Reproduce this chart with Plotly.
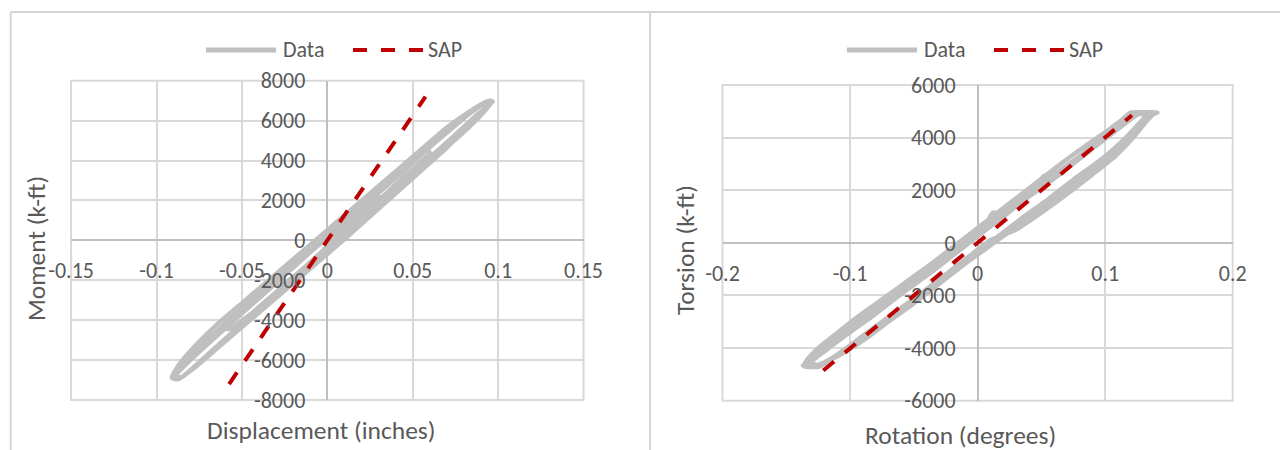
import plotly.graph_objects as go

# ---------------- data ----------------
# Left panel: moment vs. displacement (cyclic test record)
disp = [
    0.000, 0.015, 0.030, 0.028, 0.015, 0.000, -0.015, -0.030, -0.028, -0.015, 0.000,
    0.015, 0.030, 0.045, 0.060, 0.058, 0.045, 0.030, 0.015, 0.000, -0.015, -0.030,
    -0.045, -0.060, -0.058, -0.045, -0.030, -0.015, 0.000,
    0.015, 0.030, 0.045, 0.060, 0.075, 0.088, 0.096, 0.093, 0.085, 0.070, 0.055,
    0.040, 0.025, 0.010, -0.005, -0.020, -0.035, -0.050, -0.065, -0.078, -0.087,
    -0.091, -0.087, -0.078, -0.065, -0.050, -0.035, -0.020, -0.005, 0.010,
    0.025, 0.040, 0.055, 0.070, 0.083, 0.094, 0.091, 0.080, 0.065, 0.050, 0.035,
    0.020, 0.005, -0.010, -0.025, -0.040, -0.055, -0.070, -0.082, -0.089, -0.085,
    -0.075, -0.060, -0.045, -0.030, -0.015, 0.000, 0.015,
    0.030, 0.045, 0.060, 0.075, 0.087, 0.097, 0.095, 0.084, 0.068, 0.052, 0.036,
    0.020, 0.005, -0.010, -0.025, -0.040, -0.055, -0.070, -0.082, -0.090, -0.086,
    -0.076, -0.062, -0.048, -0.034, -0.020, -0.006, 0.000,
]
moment = [
    0, 1000, 2200, 2300, 1500, 300, -900, -2200, -2300, -1500, -300,
    900, 2000, 3200, 4400, 4500, 3700, 2600, 1500, 400, -800, -1900,
    -3100, -4300, -4450, -3700, -2600, -1500, -400,
    650, 1750, 2850, 3950, 5050, 6100, 6900, 6950, 6550, 5650, 4550,
    3450, 2350, 1250, 150, -950, -2050, -3150, -4250, -5350, -6250,
    -6900, -6950, -6400, -5450, -4350, -3250, -2150, -1050, 50,
    1200, 2350, 3500, 4650, 5800, 6800, 6850, 6200, 5050, 3900, 2750,
    1650, 500, -600, -1750, -2900, -4050, -5200, -6150, -6800, -6850,
    -6100, -4950, -3800, -2650, -1500, -350, 800,
    1900, 3000, 4150, 5300, 6250, 6950, 7000, 6400, 5250, 4100, 2950,
    1800, 700, -400, -1500, -2650, -3800, -4950, -5900, -6850, -6900,
    -6200, -5150, -4050, -2950, -1850, -800, -350,
]
sap_disp = [-0.0575, 0.0575]
sap_moment = [-7200, 7200]

# Right panel: torsion vs. rotation
rotation = [
    0.000, 0.020, 0.040, 0.060, 0.080, 0.100, 0.115, 0.128, 0.136, 0.141, 0.130,
    0.120, 0.108, 0.095, 0.080, 0.060, 0.040, 0.020, 0.000, -0.020, -0.040,
    -0.060, -0.080, -0.100, -0.115, -0.128, -0.137, -0.134, -0.124, -0.110,
    -0.095, -0.080, -0.060, -0.040, -0.020, 0.000,
    0.015, 0.035, 0.055, 0.075, 0.095, 0.112, 0.125, 0.132, 0.124, 0.112, 0.098,
    0.080, 0.060, 0.052, 0.048, 0.040, 0.020, 0.012, 0.008, 0.000, -0.020,
    -0.040, -0.060, -0.080, -0.100, -0.117, -0.130, -0.126, -0.115, -0.100,
    -0.085, -0.065, -0.045, -0.025, -0.005, 0.010,
    0.030, 0.050, 0.070, 0.090, 0.108, 0.122, 0.132, 0.138, 0.126, 0.114, 0.100,
    0.085, 0.065, 0.045, 0.025, 0.005, -0.015, -0.035, -0.055, -0.075, -0.095,
    -0.112, -0.126, -0.135, -0.130, -0.118, -0.104, -0.088, -0.070, -0.050,
    -0.030, -0.010, 0.010,
    0.030, 0.050, 0.070, 0.090, 0.108, 0.122, 0.133, 0.139, 0.128, 0.116, 0.100,
    0.080, 0.060, 0.040, 0.020, 0.000, -0.020, -0.040, -0.060, -0.080, -0.100,
    -0.118, -0.132, -0.128, -0.116, -0.100, -0.082, -0.062, -0.042, -0.022,
    -0.002, 0.010,
]
torsion = [
    -300, 350, 1050, 1750, 2450, 3200, 3850, 4500, 4850, 4950, 4960,
    4950, 4450, 3900, 3300, 2600, 1900, 1150, 450, -250, -950,
    -1700, -2400, -3150, -3750, -4300, -4650, -4710, -4700, -4250,
    -3750, -3200, -2500, -1800, -1050, -350,
    200, 950, 1650, 2400, 3100, 3800, 4450, 4850, 4900, 4500, 3950,
    3250, 2500, 2550, 2250, 1800, 1100, 1150, 850, 350, -400,
    -1100, -1850, -2550, -3300, -3950, -4550, -4650, -4400, -3900,
    -3350, -2650, -1950, -1200, -450, 100,
    500, 1150, 1850, 2600, 3300, 4000, 4600, 4920, 4960, 4700, 4200,
    3700, 3000, 2250, 1500, 750, 0, -750, -1450, -2150, -2850,
    -3500, -4050, -4550, -4700, -4500, -4150, -3650, -3000, -2300,
    -1550, -800, -100,
    600, 1300, 2050, 2750, 3450, 4150, 4750, 4940, 4950, 4550, 3950,
    3200, 2450, 1750, 1000, 250, -500, -1250, -1950, -2700, -3400,
    -4050, -4600, -4700, -4450, -3950, -3350, -2650, -1900, -1200,
    -450, 0,
]
sap_rotation = [-0.121, 0.121]
sap_torsion = [-4850, 4850]

# tick values and labels
disp_ticks = [-0.15, -0.1, -0.05, 0, 0.05, 0.1, 0.15]
disp_tick_text = ["-0.15", "-0.1", "-0.05", "0", "0.05", "0.1", "0.15"]
moment_ticks = [-8000, -6000, -4000, -2000, 0, 2000, 4000, 6000, 8000]
moment_tick_text = ["-8000", "-6000", "-4000", "-2000", "0", "2000", "4000", "6000", "8000"]
rot_ticks = [-0.2, -0.1, 0, 0.1, 0.2]
rot_tick_text = ["-0.2", "-0.1", "0", "0.1", "0.2"]
torsion_ticks = [-6000, -4000, -2000, 0, 2000, 4000, 6000]
torsion_tick_text = ["-6000", "-4000", "-2000", "0", "2000", "4000", "6000"]

series_names = ["Data", "SAP"]
axis_titles = {
    "left_x": "Displacement (inches)",
    "left_y": "Moment (k-ft)",
    "right_x": "Rotation (degrees)",
    "right_y": "Torsion (k-ft)",
}

# ---------------- styling ----------------
W, H = 1280, 450
GREY = "#BFBFBF"
RED = "#C00000"
GRID = "#D9D9D9"
AXIS = "#BFBFBF"
TEXT = "#595959"
FONT = "Calibri, Carlito, 'Open Sans', sans-serif"
TICK_SIZE = 22
TITLE_SIZE = 25.5


def fx(p):
    return p / W


def fy(p):
    return 1 - p / H


left_xdom = [fx(71.1), fx(583.5)]
left_ydom = [fy(400.0), fy(80.7)]
right_xdom = [fx(722.5), fx(1232.7)]
right_ydom = [fy(400.7), fy(85.0)]

fig = go.Figure()

data_line = dict(color=GREY, width=4.5, shape="spline", smoothing=0.5)
sap_line = dict(color=RED, width=4, dash="14px,14px")

fig.add_trace(go.Scatter(x=disp, y=moment, mode="lines", line=data_line,
                         name=series_names[0], xaxis="x", yaxis="y", showlegend=False))
fig.add_trace(go.Scatter(x=sap_disp, y=sap_moment, mode="lines", line=sap_line,
                         name=series_names[1], xaxis="x", yaxis="y", showlegend=False))
fig.add_trace(go.Scatter(x=rotation, y=torsion, mode="lines", line=data_line,
                         name=series_names[0], xaxis="x2", yaxis="y2", showlegend=False))
fig.add_trace(go.Scatter(x=sap_rotation, y=sap_torsion, mode="lines", line=sap_line,
                         name=series_names[1], xaxis="x2", yaxis="y2", showlegend=False))

tickfont = dict(family=FONT, size=TICK_SIZE, color=TEXT)


def xaxis_cfg(dom, ydom, rng, vals, text):
    return dict(domain=dom, range=rng, tickvals=vals, ticktext=text,
                showgrid=True, gridcolor=GRID, gridwidth=2,
                zeroline=True, zerolinecolor=AXIS, zerolinewidth=2,
                showline=False, ticks="", anchor="free",
                position=(ydom[0] + ydom[1]) / 2, side="bottom",
                tickfont=tickfont, ticklabelstandoff=15, automargin=False,
                fixedrange=True)


def yaxis_cfg(dom, xdom, rng, vals, text):
    return dict(domain=dom, range=rng, tickvals=vals, ticktext=text,
                showgrid=True, gridcolor=GRID, gridwidth=2,
                zeroline=True, zerolinecolor=AXIS, zerolinewidth=2,
                showline=False, ticks="", anchor="free",
                position=(xdom[0] + xdom[1]) / 2, side="left",
                tickfont=tickfont, ticklabelstandoff=22, automargin=False,
                fixedrange=True)


fig.update_layout(
    width=W, height=H,
    margin=dict(l=0, r=0, t=0, b=0),
    paper_bgcolor="white", plot_bgcolor="white",
    font=dict(family=FONT, color=TEXT),
    xaxis=xaxis_cfg(left_xdom, left_ydom, [-0.15, 0.15], disp_ticks, disp_tick_text),
    yaxis=yaxis_cfg(left_ydom, left_xdom, [-8000, 8000], moment_ticks, moment_tick_text),
    xaxis2=xaxis_cfg(right_xdom, right_ydom, [-0.2, 0.2], rot_ticks, rot_tick_text),
    yaxis2=yaxis_cfg(right_ydom, right_xdom, [-6000, 6000], torsion_ticks, torsion_tick_text),
)

shapes = []
# plot-area borders
for xr, yr in (("x", "y"), ("x2", "y2")):
    shapes.append(dict(type="rect", xref=f"{xr} domain", yref=f"{yr} domain",
                       x0=0, x1=1, y0=0, y1=1, line=dict(color=GRID, width=2),
                       layer="below"))
# chart frames
frame = dict(color="#D4D4D4", width=2)
shapes.append(dict(type="line", xref="paper", yref="paper",
                   x0=fx(10.7), x1=1, y0=fy(12), y1=fy(12), line=frame))
shapes.append(dict(type="line", xref="paper", yref="paper",
                   x0=fx(10.7), x1=fx(10.7), y0=fy(12), y1=0, line=frame))
shapes.append(dict(type="line", xref="paper", yref="paper",
                   x0=fx(650), x1=fx(650), y0=fy(12), y1=0, line=frame))

annotations = []
# legends drawn across the top of each chart
for off in (0, 641):
    shapes.append(dict(type="line", xref="paper", yref="paper",
                       x0=fx(206 + off), x1=fx(276 + off), y0=fy(50), y1=fy(50),
                       line=dict(color=GREY, width=5)))
    shapes.append(dict(type="line", xref="paper", yref="paper",
                       x0=fx(353 + off), x1=fx(423 + off), y0=fy(50), y1=fy(50),
                       line=dict(color=RED, width=4, dash="14px,14px")))
    annotations.append(dict(text=series_names[0], xref="paper", yref="paper",
                            x=fx(281 + off), y=fy(49), xanchor="left", yanchor="middle",
                            showarrow=False, font=dict(family=FONT, size=TICK_SIZE, color=TEXT)))
    annotations.append(dict(text=series_names[1], xref="paper", yref="paper",
                            x=fx(426 + off), y=fy(49), xanchor="left", yanchor="middle",
                            showarrow=False, font=dict(family=FONT, size=TICK_SIZE, color=TEXT)))

title_font = dict(family=FONT, size=TITLE_SIZE, color=TEXT)
annotations += [
    dict(text=axis_titles["left_x"], xref="paper", yref="paper", x=fx(321), y=fy(430),
         xanchor="center", yanchor="middle", showarrow=False, font=title_font),
    dict(text=axis_titles["left_y"], xref="paper", yref="paper", x=fx(36), y=fy(249),
         xanchor="center", yanchor="middle", showarrow=False, font=title_font, textangle=-90),
    dict(text=axis_titles["right_x"], xref="paper", yref="paper", x=fx(960), y=fy(435),
         xanchor="center", yanchor="middle", showarrow=False, font=title_font),
    dict(text=axis_titles["right_y"], xref="paper", yref="paper", x=fx(685), y=fy(250),
         xanchor="center", yanchor="middle", showarrow=False, font=title_font, textangle=-90),
]

fig.update_layout(shapes=shapes, annotations=annotations)
fig.write_html("out.html")
